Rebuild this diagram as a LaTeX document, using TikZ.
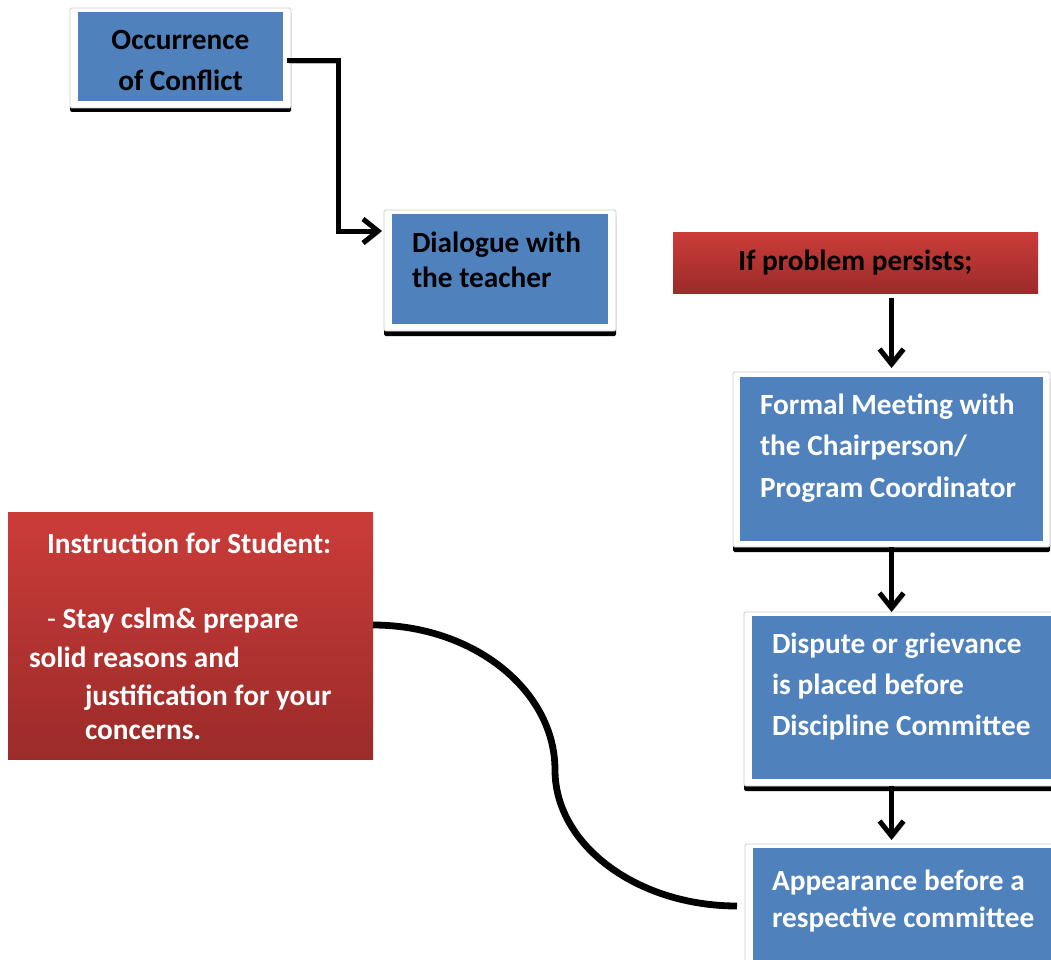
\documentclass[tikz,border=0pt]{standalone}
\usepackage{fontspec}
\setmainfont{Carlito}
\usetikzlibrary{arrows.meta,shadows}
\definecolor{boxblue}{RGB}{79,129,189}
\definecolor{redtop}{RGB}{203,60,57}
\definecolor{redbot}{RGB}{155,43,41}
\definecolor{framegray}{RGB}{205,205,205}
\begin{document}
\begin{tikzpicture}[x=1pt,y=-1pt,
  frame/.style={draw=framegray, line width=0.8pt, fill=white, rounded corners=1.5pt,
    anchor=north west, inner sep=0pt, outer sep=0pt},
  blk/.style={general shadow={fill=black, shadow xshift=0pt, shadow yshift=-#1}},
  bluebox/.style={fill=boxblue, anchor=north west, inner sep=0pt, outer sep=0pt},
  redbox/.style={top color=redtop, bottom color=redbot, anchor=north west, inner sep=0pt, outer sep=0pt},
  txt/.style={inner sep=0pt, outer sep=0pt, font=\fontsize{29.3}{35}\selectfont\bfseries, anchor=base west},
  wtxt/.style={txt, text=white},
  ctxt/.style={txt, anchor=base},
  arrline/.style={line width=5pt, draw=black,
    preaction={draw=gray!55, transform canvas={xshift=2pt,yshift=-2pt}}},
  arrtip/.style={-{Straight Barb[length=15pt,width=24pt]}},
  curveline/.style={line width=6.8pt, draw=black}
]
\useasboundingbox (0,0) rectangle (1051,960);

% frames
\node[frame, blk=4pt, minimum width=221pt, minimum height=100pt] (f1) at (70,8) {};
\node[frame, blk=5pt, minimum width=232pt, minimum height=121pt] (f2) at (384,210) {};
\node[frame, blk=5pt, minimum width=317pt, minimum height=175pt] (f3) at (733,372) {};
\node[frame, blk=5pt, minimum width=318pt, minimum height=174pt] (f4) at (744,612) {};
\node[frame, minimum width=318pt, minimum height=131pt] (f5) at (745,844) {};

% blue boxes
\node[bluebox, minimum width=205pt, minimum height=89pt] (occ) at (78,12) {};
\node[bluebox, minimum width=216pt, minimum height=110pt] (dlg) at (392,214) {};
\node[bluebox, minimum width=303pt, minimum height=164pt] (fm) at (740,377) {};
\node[bluebox, minimum width=310pt, minimum height=163pt] (dsp) at (752,616) {};
\node[bluebox, minimum width=310pt, minimum height=127pt] (app) at (753,848) {};

% red boxes
\node[redbox, minimum width=365pt, minimum height=61pt] (pp) at (673,232) {};
\node[redbox, minimum width=365pt, minimum height=247pt] (ins) at (8,512) {};

% texts
\node[ctxt] (t1a) at (180.5,50) {Occurrence};
\node[ctxt] (t1b) at (180.5,91) {of Conflict};
\node[txt] (t2a) at (412,252) {Dialogue with};
\node[txt] (t2b) at (412,287) {the teacher};
\node[ctxt] (t3a) at (855.5,270) {If problem persists;};
\node[wtxt] (t4a) at (760,414) {Formal Meeting with};
\node[wtxt] (t4b) at (760,455) {the Chairperson/};
\node[wtxt] (t4c) at (760,497) {Program Coordinator};
\node[wtxt] (t5a) at (772,653) {Dispute or grievance};
\node[wtxt] (t5b) at (772,694) {is placed before};
\node[wtxt] (t5c) at (772,735) {Discipline Committee};
\node[wtxt] (t6a) at (772,890) {Appearance before a};
\node[wtxt] (t6b) at (772,927) {respective committee};
\node[wtxt] (t7a) at (47,553) {Instruction for Student:};
\node[wtxt] (t7b) at (47,628) {{\mdseries -} Stay cslm\& prepare};
\node[wtxt] (t7c) at (29,667) {solid reasons and};
\node[wtxt] (t7d) at (85,705) {justification for your};
\node[wtxt] (t7e) at (85,739) {concerns.};

% connectors
\draw[arrline, arrtip] ([xshift=4pt,yshift=-4.5pt]occ.east)
  -| ([xshift=-46pt,yshift=-21pt]f2.north west)
  -- ([xshift=-2pt,yshift=-21pt]f2.north west);
\draw[arrline, arrtip, shorten <=5pt, shorten >=4pt] (pp.south -| f3.north) -- (f3.north);
\draw[arrline, arrtip] (f3.south) -- (f3.south |- f4.north);
\draw[arrline, arrtip, shorten >=4pt] (f3.south |- f4.south) -- (f3.south |- f5.north);
\draw[curveline] ([yshift=10.5pt]ins.east) .. controls (473,625) and (555,690) .. (555,770)
  .. controls (555,845) and (637,906) .. ([xshift=-8pt,yshift=-62pt]f5.north west);
\end{tikzpicture}
\end{document}
